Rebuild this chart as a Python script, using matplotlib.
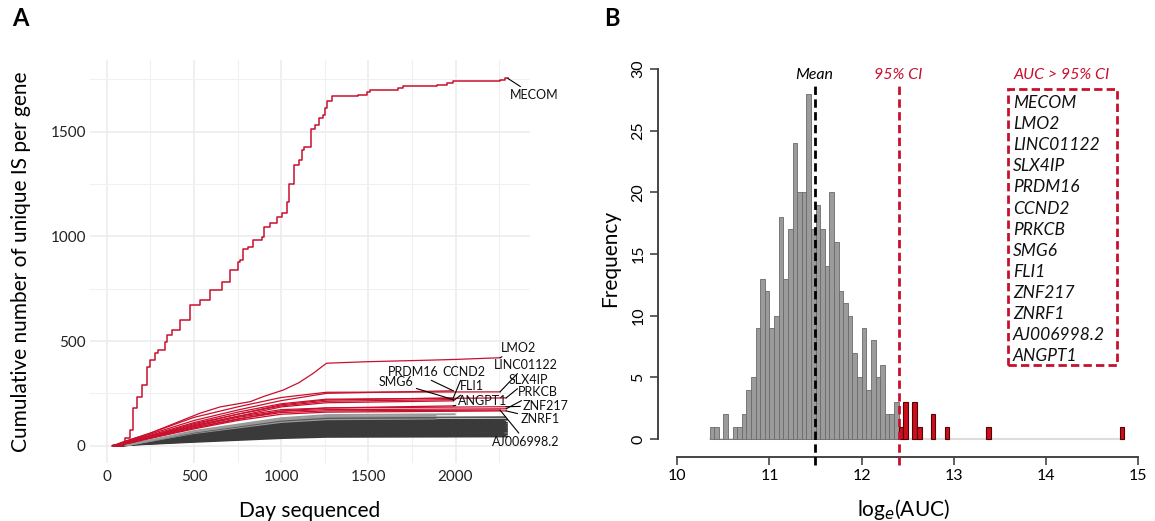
import numpy as np
import matplotlib.pyplot as plt
from matplotlib.patches import Rectangle

plt.rcParams['font.family'] = ['Lato', 'DejaVu Sans']

# ---- panel A data: cumulative unique IS per gene (day, count) knots ----
mecom_day = [30, 95, 105, 134, 153, 172, 201, 229, 248, 277, 296, 334, 344, 373, 420, 478, 535,
             593, 662, 707, 753, 765, 780, 812, 841, 889, 904, 937, 975, 1003, 1032, 1036, 1047,
             1076, 1104, 1118, 1131, 1170, 1171, 1194, 1219, 1242, 1252, 1265, 1290, 1443, 1491,
             1510, 1672, 1701, 1892, 1949, 1987, 2255, 2284, 2303]
mecom_is = [0, 11, 37, 75, 179, 234, 290, 377, 410, 441, 457, 497, 529, 553, 600, 672, 696,
            744, 782, 839, 877, 887, 938, 951, 983, 999, 1046, 1065, 1094, 1110, 1118, 1166, 1250,
            1341, 1365, 1413, 1429, 1432, 1512, 1532, 1564, 1580, 1612, 1648, 1671, 1676, 1690,
            1699, 1707, 1718, 1725, 1734, 1744, 1747, 1755, 1755]

lmo2_day = [37, 100, 248, 400, 535, 650, 822, 900, 1013, 1100, 1185, 1230, 1261, 1491, 1873, 2000, 2255]
lmo2_is = [0, 20, 59, 110, 155, 185, 210, 235, 266, 300, 346, 375, 394, 401, 409, 412, 420]

other_red_genes = ['LINC01122', 'SLX4IP', 'PRDM16', 'CCND2', 'SMG6', 'FLI1',
                   'ANGPT1', 'PRKCB', 'ZNF217', 'ZNRF1', 'AJ006998.2']
other_red_start = [40, 45, 40, 50, 50, 60, 60, 55, 55, 60, 60]
other_red_250 = [60, 50, 55, 45, 45, 40, 35, 40, 42, 35, 38]
other_red_500 = [135, 110, 120, 105, 100, 95, 85, 90, 95, 80, 85]
other_red_750 = [185, 160, 170, 150, 150, 140, 125, 135, 140, 120, 128]
other_red_1000 = [230, 200, 215, 195, 190, 185, 165, 165, 172, 150, 158]
other_red_1260 = [255, 222, 250, 218, 212, 205, 180, 172, 180, 160, 166]
other_red_end = [257, 228, 262, 228, 220, 214, 190, 176, 186, 166, 170]
other_red_end_day = [2255, 2290, 1987, 1987, 1987, 1987, 1987, 2290, 2290, 2290, 2255]

gray_start = [30, 35, 40, 45, 50, 55, 60, 60, 65, 70, 70, 75, 80, 80, 85, 90, 90, 95, 100, 100, 105, 110]
gray_500 = [18, 21, 24, 26, 28, 31, 33, 35, 37, 39, 41, 43, 45, 47, 50, 52, 55, 57, 60, 63, 66, 70]
gray_1000 = [36, 41, 46, 51, 55, 60, 64, 68, 72, 75, 79, 83, 87, 90, 95, 99, 104, 108, 113, 119, 124, 131]
gray_1260 = [42, 48, 53, 58, 63, 68, 72, 76, 80, 84, 88, 92, 96, 100, 105, 110, 115, 120, 126, 132, 138, 146]
gray_end = [44, 50, 55, 60, 66, 71, 75, 79, 83, 87, 91, 95, 99, 104, 109, 114, 119, 124, 130, 136, 142, 150]
gray_end_day = [2300, 2290, 2300, 2280, 2300, 2290, 2300, 2270, 2300, 2290, 2300, 2280, 2300, 2290,
                2300, 2290, 2280, 2300, 1890, 2290, 1890, 2000]

# ---- panel B data: histogram of log_e(AUC) ----
bin_start = 10.35
bin_width = 0.05
gray_counts = [1, 1, 0, 2, 0, 1, 1, 2, 4, 5, 9, 13, 12, 9, 10, 18, 13, 17, 24, 20, 20,
               28, 17, 19, 17, 14, 20, 16, 12, 11, 10, 7, 5, 9, 4, 8, 5, 6, 2, 2, 3]
red_bins = [12.40, 12.45, 12.55, 12.60, 12.75, 12.90, 13.35, 14.80]
red_counts = [1, 3, 3, 1, 2, 1, 1, 1]
hist_end = 14.85
mean_auc = 11.49
ci_auc = 12.40
auc_genes = ['MECOM', 'LMO2', 'LINC01122', 'SLX4IP', 'PRDM16', 'CCND2', 'PRKCB',
             'SMG6', 'FLI1', 'ZNF217', 'ZNRF1', 'AJ006998.2', 'ANGPT1']

RED = '#C8102E'

fig = plt.figure(figsize=(11.55, 5.21), dpi=100)

# ================= panel A =================
axA = fig.add_axes([90 / 1155, 58 / 521, 440 / 1155, 403 / 521])
axA.set_xlim(-96, 2427)
axA.set_ylim(-83, 1843)
axA.set_xticks([0, 500, 1000, 1500, 2000])
axA.set_xticks([250, 750, 1250, 1750, 2250], minor=True)
axA.set_yticks([0, 500, 1000, 1500])
axA.set_yticks([250, 750, 1250, 1750], minor=True)
axA.grid(which='major', color='#ebebeb', lw=1.1)
axA.grid(which='minor', color='#f0f0f0', lw=0.8)
axA.set_axisbelow(True)
for s in axA.spines.values():
    s.set_visible(False)
axA.tick_params(which='both', length=0, labelsize=11, colors='#222222', pad=5)
axA.tick_params(axis='y', pad=3)

for i in range(len(gray_start)):
    xs = [gray_start[i], 500, 1000, 1260, gray_end_day[i]]
    ys = [0, gray_500[i], gray_1000[i], gray_1260[i], gray_end[i]]
    if gray_end_day[i] < 2100:
        col = '#9a9a9a'
    elif gray_1260[i] >= 126:
        col = '#555555'
    else:
        col = '#3a3a3a'
    axA.plot(xs, ys, color=col, lw=1.4, solid_capstyle='butt')

for i, g in enumerate(other_red_genes):
    xs = [other_red_start[i], 250, 500, 750, 1000, 1260, other_red_end_day[i]]
    ys = [0, other_red_250[i], other_red_500[i], other_red_750[i], other_red_1000[i],
          other_red_1260[i], other_red_end[i]]
    axA.plot(xs, ys, color=RED, lw=0.9)
axA.plot(lmo2_day, lmo2_is, color=RED, lw=0.9)
axA.plot(mecom_day, mecom_is, color=RED, lw=1.1, drawstyle='steps-post')

# gene labels with leader lines (label point, text position)
label_pos = {
    'MECOM': ((2300, 1755), (2450, 1674)),
    'LMO2': ((2255, 420), (2360, 467)),
    'LINC01122': ((2255, 257), (2403, 386)),
    'SLX4IP': ((2290, 228), (2417, 314)),
    'PRKCB': ((2290, 176), (2473, 257)),
    'ZNF217': ((2290, 186), (2519, 190)),
    'ZNRF1': ((2290, 166), (2484, 128)),
    'AJ006998.2': ((2255, 170), (2404, 18)),
    'PRDM16': ((1987, 262), (1755, 354)),
    'CCND2': ((1987, 228), (2050, 354)),
    'SMG6': ((1987, 220), (1660, 302)),
    'FLI1': ((1987, 214), (2095, 283)),
    'ANGPT1': ((1987, 190), (2158, 214)),
}
for g, (xy, xyt) in label_pos.items():
    axA.annotate(g, xy=xy, xytext=xyt, ha='center', va='center', fontsize=9,
                 color='#111111',
                 arrowprops=dict(arrowstyle='-', color='black', lw=0.8, shrinkA=0, shrinkB=0))

axA.set_xlabel('Day sequenced', fontsize=15, labelpad=12)
axA.set_ylabel('Cumulative number of unique IS per gene', fontsize=15, labelpad=14)

# ================= panel B =================
axB = fig.add_axes([658 / 1155, 64 / 521, 492 / 1155, 397 / 521])
axB.set_xlim(9.791, 15.127)
axB.set_ylim(-1.46, 30.74)

gray_left = bin_start + bin_width * np.arange(len(gray_counts))
axB.plot([bin_start, hist_end], [0, 0], color='#dddddd', lw=1.5, zorder=1)
axB.bar(gray_left, gray_counts, width=bin_width, align='edge', color='#9b9b9b',
        edgecolor='#6a6a6a', lw=0.6, zorder=2)
axB.bar(red_bins, red_counts, width=bin_width, align='edge', color='#C8101E',
        edgecolor='#5a0000', lw=0.8, zorder=2)

axB.plot([mean_auc, mean_auc], [-2.1, 28.7], color='black', lw=2, ls=(0, (3, 1.6)),
         clip_on=False, zorder=3)
axB.plot([ci_auc, ci_auc], [-2.1, 28.7], color=RED, lw=2, ls=(0, (3, 1.6)),
         clip_on=False, zorder=3)
axB.text(mean_auc, 29.5, 'Mean', style='italic', fontsize=11.5, ha='center', va='center')
axB.text(ci_auc, 29.5, '95% CI', style='italic', fontsize=11.5, ha='center', va='center',
         color=RED)

axB.text(14.17, 29.5, 'AUC > 95% CI', style='italic', fontsize=11.5, ha='center',
         va='center', color=RED)
axB.add_patch(Rectangle((13.585, 6.0), 14.77 - 13.585, 28.39 - 6.0, fill=False,
                        edgecolor=RED, lw=2, ls=(0, (3, 1.5)), clip_on=False))
for i, g in enumerate(auc_genes):
    axB.text(13.64, 27.25 - 1.711 * i, g, style='italic', fontsize=12.5,
             ha='left', va='center', color='#111111')

for s in ['top', 'right']:
    axB.spines[s].set_visible(False)
axB.spines['left'].set_bounds(0, 30)
axB.spines['bottom'].set_bounds(10, 15)
for s in ['left', 'bottom']:
    axB.spines[s].set_color('#444444')
    axB.spines[s].set_linewidth(1.4)
axB.set_xticks([10, 11, 12, 13, 14, 15])
axB.set_yticks([0, 5, 10, 15, 20, 25, 30])
axB.tick_params(length=6, width=1.2, color='#444444', labelsize=11.5, pad=3)
for lab in axB.get_yticklabels():
    lab.set_rotation(90)
    lab.set_va('center')
axB.set_xlabel('log$_e$(AUC)', fontsize=15, labelpad=10)
axB.set_ylabel('Frequency', fontsize=15, labelpad=8)

fig.text(0.0173, 0.965, 'A', fontsize=17, fontweight='bold', ha='center', va='center')
fig.text(0.53, 0.965, 'B', fontsize=17, fontweight='bold', ha='center', va='center')

fig.savefig('out.png', dpi=100)
